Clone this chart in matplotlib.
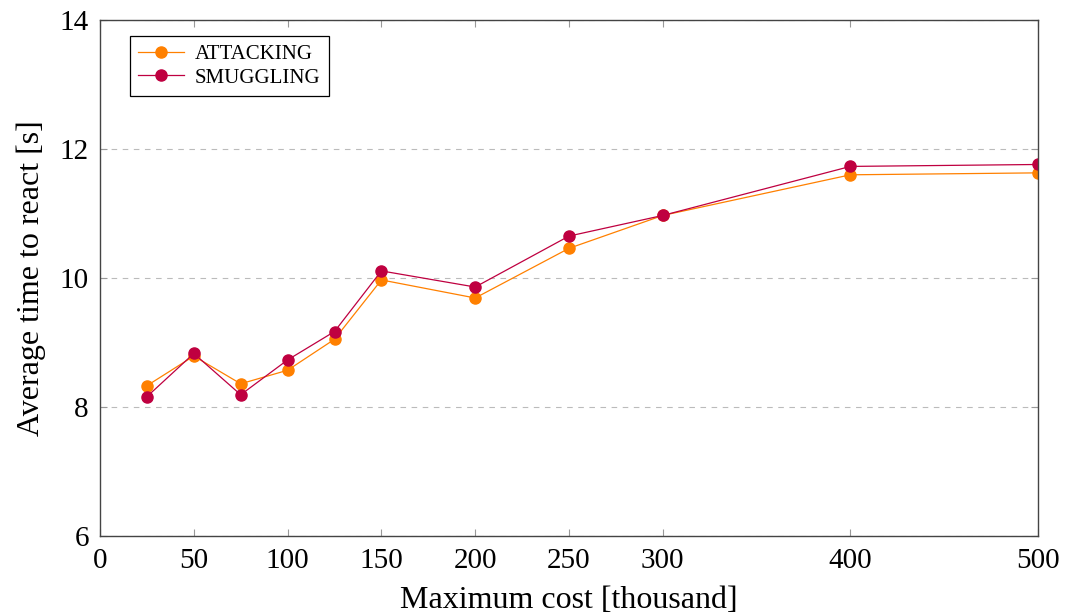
import matplotlib.pyplot as plt

# data
cost = [25, 50, 75, 100, 125, 150, 200, 250, 300, 400, 500]
attacking = [8.33, 8.79, 8.36, 8.57, 9.05, 9.97, 9.69, 10.46, 10.97, 11.60, 11.63]
smuggling = [8.16, 8.83, 8.19, 8.73, 9.17, 10.11, 9.86, 10.65, 10.97, 11.73, 11.76]
xticks = [0, 50, 100, 150, 200, 250, 300, 400, 500]
yticks = [6, 8, 10, 12, 14]

plt.rcParams['font.family'] = ['Liberation Serif', 'DejaVu Serif']

fig = plt.figure(figsize=(10.74, 6.14), dpi=100)
ax = fig.add_axes([100/1074, 1-536/614, 938/1074, 516/614])

ax.plot(cost, attacking, '-o', color='#FF8000', lw=0.9, ms=8, label='ATTACKING')
ax.plot(cost, smuggling, '-o', color='#BF0040', lw=0.9, ms=8, label='SMUGGLING')

ax.set_xlim(0, 500)
ax.set_ylim(6, 14)
ax.set_xticks(xticks)
ax.set_yticks(yticks)
ax.tick_params(direction='in', top=True, right=True, color='#999999',
               length=5, labelsize=21)
ax.tick_params(axis='x', pad=9)
ax.tick_params(axis='y', pad=8)
ax.grid(axis='y', ls=(0, (5, 5)), color='#BBBBBB', lw=0.8)
for s in ax.spines.values():
    s.set_color('#444444')
    s.set_linewidth(1.0)

ax.set_xlabel('Maximum cost [thousand]', fontsize=23, labelpad=8)
ax.set_ylabel('Average time to react [s]', fontsize=23, labelpad=10)

leg = ax.legend(loc='upper left', bbox_to_anchor=(0.032, 0.969), fontsize=15,
                fancybox=False, edgecolor='black', framealpha=1,
                handlelength=2.2, borderpad=0.4, labelspacing=0.2,
                handletextpad=0.5, borderaxespad=0)
leg.get_frame().set_linewidth(0.9)

fig.savefig('out.png', dpi=100)
